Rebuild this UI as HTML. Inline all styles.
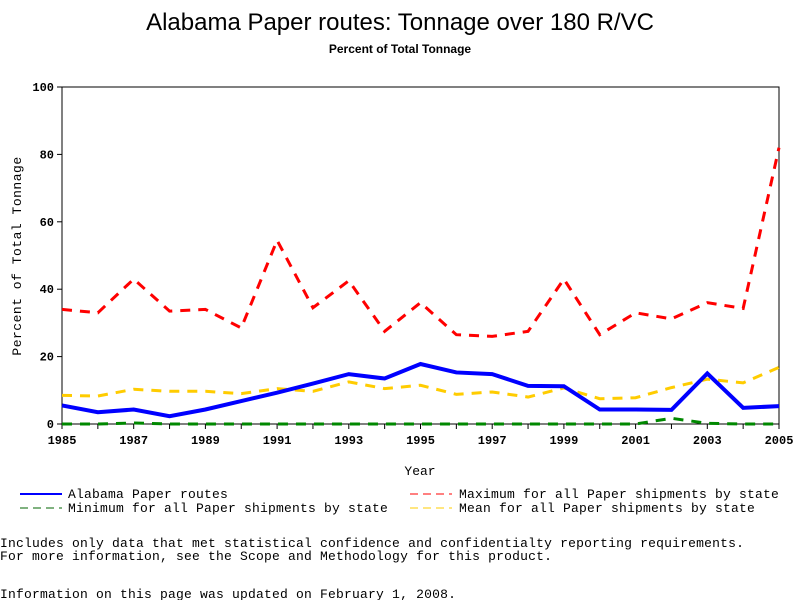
<!DOCTYPE html>
<html><head><meta charset="utf-8"><style>
body{margin:0;background:#fff;width:800px;height:600px;overflow:hidden}
svg{display:block}
text{font-family:"Liberation Mono",monospace;fill:#000}
</style></head><body>
<svg id="c" width="800" height="600">
<text x="400" y="30" text-anchor="middle" style="font-family:'Liberation Sans',sans-serif;font-size:24px">Alabama Paper routes: Tonnage over 180 R/VC</text>
<text x="400" y="53" text-anchor="middle" style="font-family:'Liberation Sans',sans-serif;font-size:12px;font-weight:bold">Percent of Total Tonnage</text>
<g id="plot"></g>
<text x="420" y="475" text-anchor="middle" font-size="13">Year</text>
<text transform="translate(21,256) rotate(-90)" text-anchor="middle" font-size="13" letter-spacing="0.5">Percent of Total Tonnage</text>
<g font-size="13" letter-spacing="0.2">
<line x1="20" y1="494" x2="62" y2="494" stroke="#00f" stroke-width="2"/><text x="68" y="498">Alabama Paper routes</text>
<line x1="20" y1="508" x2="62" y2="508" stroke="#060" stroke-width="1" stroke-dasharray="8,5"/><text x="68" y="512">Minimum for all Paper shipments by state</text>
<line x1="410" y1="494" x2="452" y2="494" stroke="#f00" stroke-width="1" stroke-dasharray="8,5"/><text x="459" y="498">Maximum for all Paper shipments by state</text>
<line x1="410" y1="508" x2="452" y2="508" stroke="#fc0" stroke-width="1" stroke-dasharray="8,5"/><text x="459" y="512">Mean for all Paper shipments by state</text>
</g>
<g font-size="13" letter-spacing="0.2">
<text x="0" y="547">Includes only data that met statistical confidence and confidentialty reporting requirements.</text>
<text x="0" y="560">For more information, see the Scope and Methodology for this product.</text>
<text x="0" y="598">Information on this page was updated on February 1, 2008.</text>
</g>
</svg>
<script>
const years=[1985,1986,1987,1988,1989,1990,1991,1992,1993,1994,1995,1996,1997,1998,1999,2000,2001,2002,2003,2004,2005];
const alabama=[5.5,3.5,4.3,2.3,4.3,6.8,9.3,12,14.8,13.5,17.8,15.3,14.8,11.3,11.2,4.3,4.3,4.2,15,4.8,5.3];
const maximum=[34,33,43,33.5,34,28.5,54.5,34.5,42.5,27.5,36,26.5,26,27.5,43,26.5,33,31.2,36,34.3,82];
const mean=[8.5,8.3,10.3,9.7,9.7,9,10.5,9.7,12.5,10.5,11.5,8.8,9.5,8,10.7,7.5,7.8,10.8,13.3,12.2,16.8];
const minimum=[0,0,0.3,0,0,0,0,0,0,0,0,0,0,0,0,0,0,1.7,0.2,0,0];
const yTicks=[0,20,40,60,80,100];
const xTicks=[1985,1987,1989,1991,1993,1995,1997,1999,2001,2003,2005];
const L=62,R=779,T=87,B=424;
const x=v=>L+(v-1985)/20*(R-L);
const y=v=>B-v/100*(B-T);
const NS="http://www.w3.org/2000/svg";
const g=document.getElementById('plot');
function mk(t,a){const e=document.createElementNS(NS,t);for(const k in a)e.setAttribute(k,a[k]);g.appendChild(e);return e;}
const f=mk('rect',{x:L,y:T,width:R-L,height:B-T,fill:'none',stroke:'#000'});


yTicks.forEach(v=>{mk('line',{x1:L-5,x2:L,y1:y(v),y2:y(v),stroke:'#000'});
const t=mk('text',{x:L-8,y:y(v)+4,'text-anchor':'end','font-size':12,'font-weight':'bold'});t.textContent=v;

});
years.forEach(v=>mk('line',{x1:x(v),x2:x(v),y1:B,y2:B+5,stroke:'#000'}));
xTicks.forEach(v=>{const t=mk('text',{x:x(v),y:B+20,'text-anchor':'middle','font-size':12,'font-weight':'bold'});t.textContent=v;

});
function line(d,c,w,dash,name){const p=mk('polyline',{points:d.map((v,i)=>x(years[i])+','+y(v)).join(' '),fill:'none',stroke:c,'stroke-width':w,'stroke-dasharray':dash});

}
line(minimum,'#080',3,'10,8','series-minimum');
line(mean,'#fc0',3,'10,8','series-mean');
line(maximum,'#f00',3,'10,8','series-maximum');
line(alabama,'#00f',4,'none','series-alabama');
</script>
</body></html>
